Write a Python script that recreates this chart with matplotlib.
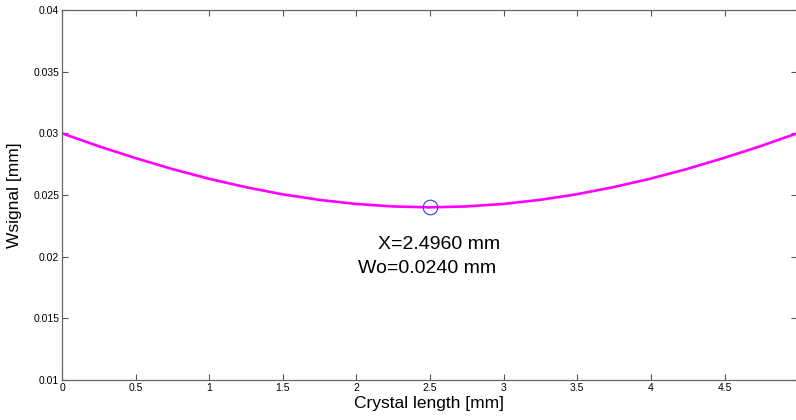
import matplotlib
matplotlib.use('Agg')
import matplotlib.pyplot as plt

# Beam width
crystal_len = [0.0, 0.25, 0.5, 0.75, 1.0, 1.25, 1.5, 1.75, 2.0, 2.25, 2.496,
               2.742, 2.992, 3.242, 3.492, 3.742, 3.992, 4.242, 4.492, 4.742, 4.992]
wsignal = [0.0300, 0.02895, 0.02799, 0.02710, 0.02631, 0.02563, 0.02505, 0.02460,
           0.02427, 0.02407, 0.0240, 0.02407, 0.02427, 0.02460, 0.02505, 0.02563,
           0.02631, 0.02710, 0.02799, 0.02895, 0.0300]

waist_x = 2.496
waist_w = 0.0240

xticks = [0, 0.5, 1, 1.5, 2, 2.5, 3, 3.5, 4, 4.5]
xticklabels = ['0', '0.5', '1', '1.5', '2', '2.5', '3', '3.5', '4', '4.5']
yticks = [0.01, 0.015, 0.02, 0.025, 0.03, 0.035, 0.04]
yticklabels = ['0.01', '0.015', '0.02', '0.025', '0.03', '0.035', '0.04']

plt.rcParams['font.family'] = ['Liberation Sans', 'DejaVu Sans']

fig = plt.figure(figsize=(7.96, 4.2), dpi=100)
ax = fig.add_axes([62 / 796, 40 / 420, 735 / 796, 370 / 420])

ax.plot(crystal_len, wsignal, color='#ff00ff', lw=1.9)
ax.plot([waist_x], [waist_w], 'o', mfc='none', mec='#3333ff', ms=10.5, mew=0.8)

ax.text(2.147, 0.02095, 'X=%.4f mm' % waist_x, fontsize=14, va='center', ha='left')
ax.text(2.011, 0.01908, 'Wo=%.4f mm' % waist_w, fontsize=14, va='center', ha='left')

ax.set_xlim(0, 4.992)
ax.set_ylim(0.01, 0.04)
ax.set_xticks(xticks)
ax.set_xticklabels(xticklabels)
ax.set_yticks(yticks)
ax.set_yticklabels(yticklabels)
ax.tick_params(direction='in', length=4.3, width=0.8, color='#555555',
               labelsize=7.5, pad=2, top=True, right=True)
for s in ax.spines.values():
    s.set_color('#666666')
    s.set_linewidth(0.9)

ax.set_xlabel('Crystal length [mm]', fontsize=12.5, labelpad=2)
ax.set_ylabel('Wsignal [mm]', fontsize=12.5, labelpad=8)

fig.savefig('out.png', dpi=100)
